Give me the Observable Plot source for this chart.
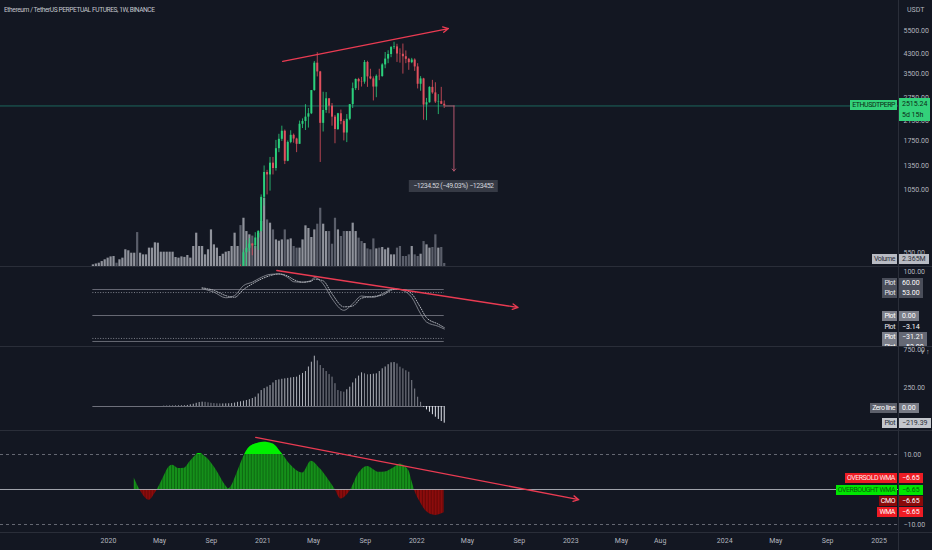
<!DOCTYPE html>
<html><head><meta charset="utf-8">
<script src="https://cdn.jsdelivr.net/npm/d3@7"></script>
<script src="https://cdn.jsdelivr.net/npm/@observablehq/plot@0.6"></script>
<style>
html,body{margin:0;padding:0;background:#131722;}
#wrap{position:relative;width:932px;height:550px;background:#131722;overflow:hidden;font-family:Roboto,"Liberation Sans",sans-serif;}
.pane{position:absolute;left:0;width:932px;overflow:hidden;}
.pane svg{position:absolute;left:0;top:0;}
.sep{position:absolute;background:#2a2e39;}
.tag{position:absolute;box-sizing:border-box;height:10px;line-height:10px;font-size:7px;padding:0 2px;white-space:nowrap;letter-spacing:-0.45px;}
.txt{position:absolute;font-size:7px;color:#b2b5be;white-space:nowrap;}
</style></head><body><div id="wrap"></div>
<script>
// ---------------- DATA ----------------
const candleStart = "2020-11-02"; // weekly candles
const opens  = [383,461,449,549,575,601,589,640,685,975,1262,1230,1390,1315,1615,1780,1935,1417,1723,1855,1785,1690,2080,2140,2240,2320,2950,3920,3580,2100,2400,2710,2510,2240,1970,2320,2140,1900,2190,2550,3010,3310,3230,3220,3950,3400,3330,3060,3420,3410,3850,4090,4290,4610,4640,4310,4300,4190,4080,3940,4050,3770,3150,3330,2540,2600,3050,2880,2620,2630,2560];
const highs  = [470,483,565,623,636,604,676,690,1000,1350,1290,1475,1475,1760,1875,2040,1960,1750,1945,1880,1800,2150,2200,2550,2450,2950,3990,4370,3600,2900,2890,2710,2580,2280,2330,2410,2180,2300,2550,3190,3330,3350,3380,4030,4000,3680,3400,3470,3680,3900,4380,4460,4660,4870,4770,4550,4780,4450,4120,4120,4100,3900,3410,3350,2720,3070,3280,3200,2830,3050,2650];
const lows   = [374,436,442,476,555,532,571,563,680,890,1000,1040,1230,1280,1550,1740,1370,1410,1700,1710,1550,1690,1990,1950,2000,2300,2930,3400,1400,1920,2330,2320,2040,1700,1950,2070,1750,1720,2160,2450,2950,2950,3060,3150,3050,3300,2650,2740,3270,3390,3700,3900,4150,4520,3950,3920,3500,3900,3640,3900,3600,3000,2930,2170,2160,2590,2840,2580,2300,2550,2450];
const closes = [461,449,549,575,601,589,640,685,975,1262,1230,1390,1315,1615,1780,1935,1417,1723,1855,1785,1690,2080,2140,2240,2320,2950,3920,3580,2100,2400,2710,2510,2240,1970,2320,2140,1900,2190,2550,3010,3310,3230,3220,3950,3400,3330,3060,3420,3410,3850,4090,4290,4610,4640,4310,4300,4190,4080,3940,4050,3770,3150,3330,2540,2600,3050,2880,2620,2630,2560,2515.24];

const volumeStart = "2019-11-25"; // weekly volume, millions
const volumes = [1.3,2.0,2.6,3.9,5.3,6.6,7.6,7.9,2.6,5.3,
 6.6,13.2,12.4,10.5,10.5,26.8,10.5,9.2,9.2,14.5,
 14.5,18.7,18.4,11.3,11.3,11.3,11.3,11.3,7.1,6.6,
 7.6,7.2,8.7,6.6,15.8,26.3,15.8,15.8,9.2,13.2,
 28.9,17.1,14.5,7.9,9.7,11.3,11.8,15.8,26.3,15.8,
 32.3,38.1,27.6,25.0,24.0,15.8,26.3,35.5,53.9,36.8,
 34.2,28.9,21.0,20.0,21.0,28.9,21.0,21.8,15.8,14.5,
 14.5,21.0,32.1,30.0,22.9,28.9,33.4,46.0,33.4,27.6,
 27.6,17.6,38.1,28.9,23.7,27.6,27.6,27.6,34.2,27.6,
 22.4,19.7,18.1,13.9,13.2,21.8,13.9,14.5,15.0,13.2,
 14.5,9.2,9.2,14.5,15.8,7.9,7.9,9.2,15.8,9.2,
 7.9,9.7,19.7,17.1,14.5,15.0,25.0,14.5,15.0,2.4];
const earlyDownWeeks = [8, 15];

const stochDates = ["2020-08-10","2020-09-07","2020-10-05","2020-10-26","2020-11-16","2020-12-07","2020-12-28","2021-01-18","2021-02-08","2021-03-01","2021-03-15","2021-04-05","2021-04-26","2021-05-03","2021-05-24","2021-06-14","2021-07-12","2021-08-02","2021-08-23","2021-09-20","2021-10-11","2021-11-08","2021-11-29","2021-12-20","2022-01-10","2022-01-24","2022-02-21","2022-03-07"];
const kValues = [62,54,41,46,69,77,88,95,96,88,78,77,81,88,73,39,12,27,45,42,50,62,58,42,4,-15,-25,-31.21];
const dValues = [64,58,46,42,60,73,84,92,96,91,83,77,79,84,80,50,20,22,40,44,47,60,60,50,18,-5,-20,-28];
const stochSolidLevels = [60, 0, -60];
const stochDottedLevels = [53, -53];

const histStart = "2020-05-11"; // weekly histogram
const histValues = [4,5,6,6,7,8,9,10,14,22,30,42,52,57,55,48,42,38,35,34,34,35,36,38,45,55,62,70,79,90,105,122,165,210,235,255,276,310,342,350,358,364,370,376,381,386,410,435,460,520,
 583,662,600,539,500,460,420,386,300,210,195,188,220,254,310,364,400,443,430,417,420,425,430,460,496,520,550,575,578,560,517,495,470,451,342,230,122,55,-9,-45,-75,-108,-141,-170,-198,-219.39];

const cmoDates = ["2020-03-02","2020-03-16","2020-03-30","2020-04-06","2020-04-20","2020-04-27","2020-05-11","2020-05-25","2020-06-01","2020-06-15","2020-06-29","2020-07-13","2020-08-03","2020-08-24","2020-09-14","2020-10-05","2020-10-12","2020-11-02","2020-11-16","2020-11-30","2020-12-21","2021-01-04","2021-01-25","2021-02-15","2021-03-08","2021-04-05","2021-04-26","2021-05-17","2021-06-07","2021-06-21","2021-07-05","2021-07-12","2021-07-26","2021-08-16","2021-09-06","2021-10-04","2021-10-18","2021-11-08","2021-11-22","2021-12-13","2021-12-20","2021-12-27","2022-01-10","2022-01-24","2022-02-14","2022-02-21","2022-03-07"];
const cmoValues = [3.3,-0.2,-2.6,-3.1,-1.2,0.2,3.6,6.6,6.9,6.0,6.1,8.0,10.3,8.7,5.3,1.1,0.2,5.0,9.2,12.0,13.2,13.5,13.0,10.3,7.0,4.7,8.1,5.9,2.6,0.1,-2.7,-2.4,-0.6,4.5,6.6,4.9,5.0,6.2,7.3,5.4,2.6,-0.3,-3.8,-6.3,-7.4,-7.3,-6.65];
const cmoLevels = [10, -10];

const priceTicks = [550,690,850,1050,1350,1750,2150,2750,3500,4300,5500];
const stochTicks = [100];
const histTicks = [250, 750];
const cmoTicks = [10, -10];
const xTickDates = ["2020-01-01","2020-05-01","2020-09-01","2021-01-01","2021-05-01","2021-09-01","2022-01-01","2022-05-01","2022-09-01","2023-01-01","2023-05-01","2023-08-01","2024-01-01","2024-05-01","2024-09-01","2025-01-01"];
const xTickLabels = ["2020","May","Sep","2021","May","Sep","2022","May","Sep","2023","May","Aug","2024","May","Sep","2025"];

const lastPrice = 2515.24, measureTarget = 1280.72, measureDate = "2022-03-30";
const trendMain = [{x1:"2021-02-17", y1:3990, x2:"2022-03-17", y2:5615}];
const trendStoch = [{x1:"2021-02-03", y1:104, x2:"2022-08-29", y2:18.5}];
const trendCmo = [{x1:"2020-12-15", y1:14.9, x2:"2023-01-20", y2:-2.9}];

// ---------------- SETUP ----------------
const parse = d3.utcParse("%Y-%m-%d");
const W = 932, MR = 34, AX = 898;
const X_DOMAIN = [parse("2019-04-20"), parse("2025-02-16")];
const fmt2 = v => (v < 0 ? "\u2212" : "") + Math.abs(v).toFixed(2);
const UP = "#2bd07c", DOWN = "#e0505e", TREND = "#ea3b52", MEASURE = "#b4566e";
const FONT = {background:"transparent", fontFamily:"Roboto, 'Liberation Sans', sans-serif", fontSize:"7px", color:"#b2b5be"};
const wk = (start, i) => d3.utcDay.offset(parse(start), 7*i);
const P = a => a.map(d => ({...d, x1: parse(d.x1), x2: parse(d.x2)}));

const candles = opens.map((o,i) => ({date: wk(candleStart,i), o, h: highs[i], l: lows[i], c: closes[i]}));
const candleOffset = Math.round((parse(candleStart) - parse(volumeStart)) / (7*864e5));
const vol = volumes.map((v,i) => {
  const ci = i - candleOffset;
  const dim = ci >= 0 ? closes[ci] < opens[ci] : earlyDownWeeks.includes(i);
  return {date: wk(volumeStart,i), v, dim};
});
const firstBar = wk(volumeStart,0), lastBar = wk(volumeStart, volumes.length-1);
const stoch = stochDates.map((d,i) => ({date: parse(d), k: kValues[i], d: dValues[i]}));
const hist = histValues.map((v,i) => ({date: wk(histStart,i), v, prev: i ? histValues[i-1] : 0}));
const cmo = cmoDates.map((d,i) => ({date: parse(d), v: cmoValues[i]}));
const xt = xTickDates.map(parse);
const xLabel = new Map(xt.map((d,i) => [+d, xTickLabels[i]]));

const wrap = document.getElementById("wrap");
function pane(top, h){ const d=document.createElement("div"); d.className="pane"; d.style.top=top+"px"; d.style.height=h+"px"; wrap.appendChild(d); return d; }
function sep(l,t,w,h){ const d=document.createElement("div"); d.className="sep"; Object.assign(d.style,{left:l+"px",top:t+"px",width:w+"px",height:h+"px"}); wrap.appendChild(d); }
function box(parent, text, css){ const d=document.createElement("div"); d.className="tag"; d.innerHTML=text; Object.assign(d.style, css); parent.appendChild(d); return d; }
function tag(parent, yc, left, right){
  if (left) box(parent, left.text, {right:(W-AX+1)+"px", top:(yc-5)+"px", background:left.bg, color:left.fg});
  if (right) box(parent, right.text, {left:(AX+1)+"px", top:(yc-5)+"px", background:right.bg, color:right.fg, padding:"0 3px", letterSpacing:"0"});
}
const base = (h, extra={}) => ({width:W, height:h, marginLeft:0, marginRight:MR, marginTop:0, marginBottom:0, style:FONT,
  x:{type:"utc", domain:X_DOMAIN, axis:null}, color:{type:"identity"}, ...extra});

// ---------------- MAIN PANE ----------------
const p1 = pane(0, 266);
const volPlot = Plot.plot(base(266, {
  y:{domain:[0,210], axis:null},
  marks:[Plot.ruleX(vol, {x:"date", y1:0, y2:"v", stroke:d => d.dim ? "#5a5e6a" : "#90939c", strokeWidth:2.2})]
}));
p1.appendChild(volPlot);
const pricePlot = Plot.plot(base(266, {
  y:{type:"log", domain:[476,7508], axis:null},
  marks:[
    Plot.ruleY([lastPrice], {stroke:"#1f8f7a", strokeOpacity:0.85, strokeWidth:0.8}),
    Plot.ruleX(candles, {x:"date", y1:"l", y2:"h", stroke:d => d.c>=d.o ? UP : DOWN, strokeWidth:0.8, clip:true}),
    Plot.ruleX(candles, {x:"date", y1:"o", y2:"c", stroke:d => d.c>=d.o ? UP : DOWN, strokeWidth:2, clip:true}),
    Plot.arrow(P(trendMain), {x1:"x1", y1:"y1", x2:"x2", y2:"y2", stroke:TREND, strokeWidth:1.3, headLength:7, headAngle:55}),
    Plot.ruleY([{v:lastPrice, x1:parse("2022-03-10"), x2:parse("2022-04-02")}], {y:"v", x1:"x1", x2:"x2", stroke:MEASURE, strokeWidth:0.9}),
    Plot.arrow([{x:parse(measureDate), y1:lastPrice, y2:measureTarget}], {x1:"x", x2:"x", y1:"y1", y2:"y2", stroke:MEASURE, strokeWidth:1, headLength:4, headAngle:80}),
    Plot.axisY(priceTicks, {anchor:"right", tickSize:0, tickPadding:5, tickFormat:fmt2})
  ]
}));
p1.appendChild(pricePlot);
{
  const y = pricePlot.scale("y"), x = pricePlot.scale("x");
  const yc = y.apply(lastPrice);
  box(p1, "ETHUSDTPERP", {right:(W-AX+1)+"px", top:(yc-5)+"px", background:"#33d17a", color:"#0d2b18"});
  box(p1, "2515.24<br>5d 15h", {left:(AX+1)+"px", top:(yc-7)+"px", height:"23px", lineHeight:"10.5px", background:"#33d17a", color:"#0d2b18", padding:"1px 3px", letterSpacing:"0"});
  const vy = volPlot.scale("y").apply(volumes[volumes.length-1]);
  tag(p1, vy-3.5, {text:"Volume", bg:"#b8bbc3", fg:"#2a2e39"}, {text:"2.365M", bg:"#b8bbc3", fg:"#2a2e39"});
  const mx = x.apply(parse(measureDate)), my = y.apply(measureTarget);
  box(p1, "\u22121234.52 (\u221249.03%) \u2212123452", {left:mx+"px", top:(my+15)+"px", transform:"translate(-50%,-50%)", height:"12px", lineHeight:"12px", padding:"0 4px", background:"#363a45", color:"#d1d4dc"});
  const t = document.createElement("div"); t.className="txt"; t.textContent="Ethereum / TetherUS PERPETUAL FUTURES, 1W, BINANCE";
  Object.assign(t.style,{left:"4px", top:"6px", color:"#c3c6cd", fontSize:"6.6px", letterSpacing:"-0.4px"}); p1.appendChild(t);
  const u = document.createElement("div"); u.className="txt"; u.textContent="USDT";
  Object.assign(u.style,{left:"907px", top:"6px"}); p1.appendChild(u);
}

// ---------------- STOCH PANE ----------------
const p2 = pane(266, 80);
const lvl = a => a.map(v => ({v, x1:firstBar, x2:lastBar}));
const stochPlot = Plot.plot(base(80, {
  y:{domain:[-71.6,113.2], axis:null},
  marks:[
    Plot.ruleY(lvl(stochSolidLevels), {y:"v", x1:"x1", x2:"x2", stroke:"#6f727d", strokeWidth:0.9}),
    Plot.ruleY(lvl(stochDottedLevels), {y:"v", x1:"x1", x2:"x2", stroke:"#8a8d97", strokeWidth:0.9, strokeDasharray:"1,1.6"}),
    Plot.line(stoch, {x:"date", y:"k", stroke:"#9598a1", strokeWidth:0.8, curve:"monotone-x"}),
    Plot.line(stoch, {x:"date", y:"d", stroke:"#c3c6cd", strokeWidth:0.9, strokeDasharray:"1,1.5", curve:"monotone-x"}),
    Plot.arrow(P(trendStoch), {x1:"x1", y1:"y1", x2:"x2", y2:"y2", stroke:TREND, strokeWidth:1.3, headLength:7, headAngle:55}),
    Plot.axisY(stochTicks, {anchor:"right", tickSize:0, tickPadding:5, tickFormat:fmt2})
  ]
}));
p2.appendChild(stochPlot);
{
  const y = stochPlot.scale("y");
  const dark = "#4a4e5a", mid = "#7b7e89", mid2 = "#656874";
  tag(p2, y.apply(60)-6, {text:"Plot", bg:dark, fg:"#e6e8ee"}, {text:"60.00", bg:dark, fg:"#fff"});
  tag(p2, y.apply(53)+1, {text:"Plot", bg:dark, fg:"#e6e8ee"}, {text:"53.00", bg:dark, fg:"#fff"});
  tag(p2, y.apply(0)+1, {text:"Plot", bg:mid, fg:"#fff"}, {text:"0.00", bg:mid, fg:"#fff"});
  tag(p2, y.apply(-3.14)+10.5, {text:"Plot", bg:"transparent", fg:"#e6e8ee"}, {text:"\u22123.14", bg:"transparent", fg:"#fff"});
  tag(p2, y.apply(-31.21)+8.5, {text:"Plot", bg:mid, fg:"#fff"}, {text:"\u221231.21", bg:mid2, fg:"#fff"});
  tag(p2, y.apply(-53)+9.5, {text:"Plot", bg:mid, fg:"#fff"}, {text:"\u221253.00", bg:mid2, fg:"#fff"});
}

// ---------------- HISTOGRAM PANE ----------------
const p3 = pane(346, 84);
const hColor = d => d.v >= 0 ? (d.v >= d.prev ? "#aeb1b9" : "#80838d") : (d.v < d.prev ? "#e0e3eb" : "#9598a1");
const histPlot = Plot.plot(base(84, {
  y:{domain:[-315.8,789.5], axis:null},
  marks:[
    Plot.ruleY([{v:0, x1:firstBar, x2:lastBar}], {y:"v", x1:"x1", x2:"x2", stroke:"#787b86", strokeWidth:0.9}),
    Plot.ruleX(hist, {x:"date", y1:0, y2:"v", stroke:hColor, strokeWidth:1}),
    Plot.axisY(histTicks, {anchor:"right", tickSize:0, tickPadding:5, tickFormat:fmt2})
  ]
}));
p3.appendChild(histPlot);
{
  const y = histPlot.scale("y");
  tag(p3, y.apply(0)+2, {text:"Zero line", bg:"#5d606b", fg:"#fff"}, {text:"0.00", bg:"#787b86", fg:"#fff"});
  tag(p3, y.apply(-219.39), {text:"Plot", bg:"#c3c6cc", fg:"#2a2e39"}, {text:"\u2212219.39", bg:"#c3c6cc", fg:"#2a2e39"});
}

// ---------------- CMO PANE ----------------
const p4 = pane(430, 120);
const cmoPlot = Plot.plot(base(120, {
  marginTop:1, marginBottom:18,
  y:{domain:[-12.286,16.571], axis:null},
  marks:[
    Plot.ruleY(cmoLevels, {stroke:"#7b7e89", strokeWidth:0.8, strokeDasharray:"3,3"}),
    Plot.areaY(cmo, {x:"date", y1:0, y2:"v", curve:"monotone-x", fill:"#15901a", ariaDescription:"cmo-pos"}),
    Plot.areaY(cmo, {x:"date", y1:0, y2:"v", curve:"monotone-x", fill:"#8c0c0c", ariaDescription:"cmo-neg"}),
    Plot.areaY(cmo, {x:"date", y1:0, y2:"v", curve:"monotone-x", fill:"#00f000", ariaDescription:"cmo-hi"}),
    Plot.ruleY([0], {stroke:"#b2b5be", strokeWidth:0.9}),
    Plot.arrow(P(trendCmo), {x1:"x1", y1:"y1", x2:"x2", y2:"y2", stroke:TREND, strokeWidth:1.3, headLength:7, headAngle:55}),
    Plot.axisY(cmoTicks, {anchor:"right", tickSize:0, tickPadding:5, tickFormat:fmt2}),
    Plot.axisX(xt, {anchor:"bottom", tickSize:0, tickPadding:6, tickFormat:d => xLabel.get(+d)})
  ]
}));
p4.appendChild(cmoPlot);
{
  const y = cmoPlot.scale("y");
  const svg = d3.select(cmoPlot);
  const defs = svg.insert("defs", ":first-child");
  const y0 = y.apply(0), y10 = y.apply(10);
  defs.append("clipPath").attr("id","cPos").append("rect").attr("x",0).attr("y",0).attr("width",W).attr("height",y0);
  defs.append("clipPath").attr("id","cNeg").append("rect").attr("x",0).attr("y",y0).attr("width",W).attr("height",120);
  defs.append("clipPath").attr("id","cHi").append("rect").attr("x",0).attr("y",0).attr("width",W).attr("height",y10);
  const pat = (id, bg, st) => { const p = defs.append("pattern").attr("id",id).attr("patternUnits","userSpaceOnUse").attr("width",2.95).attr("height",8);
    p.append("rect").attr("width",2.95).attr("height",8).attr("fill",bg); p.append("rect").attr("width",0.8).attr("height",8).attr("fill",st); };
  pat("sG", "#15901a", "#0a5c0e"); pat("sR", "#8c0c0c", "#5a0505");
  svg.select('g[aria-description="cmo-pos"]').attr("clip-path","url(#cPos)").selectAll("path").attr("fill","url(#sG)");
  svg.select('g[aria-description="cmo-neg"]').attr("clip-path","url(#cNeg)").selectAll("path").attr("fill","url(#sR)");
  svg.select('g[aria-description="cmo-hi"]').attr("clip-path","url(#cHi)");
  const yv = y.apply(-6.65);
  tag(p4, yv-34, {text:"OVERSOLD WMA", bg:"#ee1c24", fg:"#ffe6e6"}, {text:"\u22126.65", bg:"#ee1c24", fg:"#fff"});
  tag(p4, yv-22.5, {text:"OVERBOUGHT WMA", bg:"#00e600", fg:"#0b5d0b"}, {text:"\u22126.65", bg:"#00e600", fg:"#0b5d0b"});
  tag(p4, yv-11, {text:"CMO", bg:"#8b0a0a", fg:"#fff"}, {text:"\u22126.65", bg:"#8b0a0a", fg:"#fff"});
  tag(p4, yv, {text:"WMA", bg:"#ee1c24", fg:"#fff"}, {text:"\u22126.65", bg:"#ee1c24", fg:"#fff"});
}

// separators
sep(0,266,W,1); sep(0,346,W,1); sep(0,430,W,1); sep(0,532,W,1); sep(AX,0,1,550);
</script></body></html>
